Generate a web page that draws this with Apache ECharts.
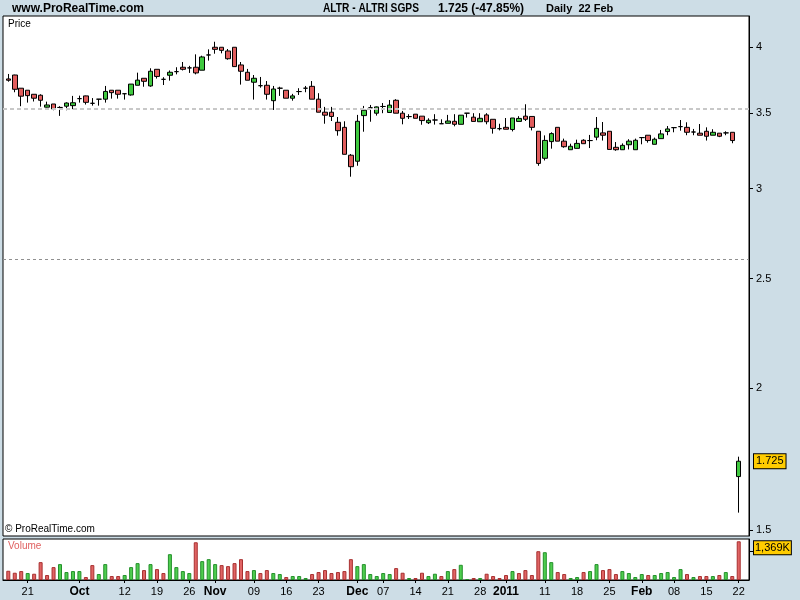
<!DOCTYPE html>
<html><head><meta charset="utf-8">
<script src="https://cdn.jsdelivr.net/npm/echarts@6/dist/echarts.min.js"></script>
<style>html,body{margin:0;padding:0;background:#cddde6}#c{width:800px;height:600px}</style>
</head><body><div id="c"></div><script>
const symbolName = 'ALTR - ALTRI SGPS';
const dates = [
'2010-09-16','2010-09-17','2010-09-20','2010-09-21','2010-09-22','2010-09-23','2010-09-24','2010-09-27','2010-09-28','2010-09-29','2010-09-30',
'2010-10-01','2010-10-04','2010-10-05','2010-10-06','2010-10-07','2010-10-08','2010-10-11','2010-10-12','2010-10-13','2010-10-14','2010-10-15','2010-10-18','2010-10-19','2010-10-20','2010-10-21','2010-10-22','2010-10-25','2010-10-26','2010-10-27','2010-10-28','2010-10-29',
'2010-11-01','2010-11-02','2010-11-03','2010-11-04','2010-11-05','2010-11-08','2010-11-09','2010-11-10','2010-11-11','2010-11-12','2010-11-15','2010-11-16','2010-11-17','2010-11-18','2010-11-19','2010-11-22','2010-11-23','2010-11-24','2010-11-25','2010-11-26','2010-11-29','2010-11-30',
'2010-12-01','2010-12-02','2010-12-03','2010-12-06','2010-12-07','2010-12-08','2010-12-09','2010-12-10','2010-12-13','2010-12-14','2010-12-15','2010-12-16','2010-12-17','2010-12-20','2010-12-21','2010-12-22','2010-12-23','2010-12-24','2010-12-27','2010-12-28','2010-12-29','2010-12-30','2010-12-31',
'2011-01-03','2011-01-04','2011-01-05','2011-01-06','2011-01-07','2011-01-10','2011-01-11','2011-01-12','2011-01-13','2011-01-14','2011-01-17','2011-01-18','2011-01-19','2011-01-20','2011-01-21','2011-01-24','2011-01-25','2011-01-26','2011-01-27','2011-01-28','2011-01-31',
'2011-02-01','2011-02-02','2011-02-03','2011-02-04','2011-02-07','2011-02-08','2011-02-09','2011-02-10','2011-02-11','2011-02-14','2011-02-15','2011-02-16','2011-02-17','2011-02-18','2011-02-21','2011-02-22'];
const openP = [3.749,3.779,3.679,3.664,3.634,3.627,3.540,3.563,3.538,3.547,
 3.551,3.602,3.622,3.568,3.598,3.598,3.664,3.664,3.638,3.629,
 3.701,3.754,3.696,3.823,3.746,3.777,3.805,3.839,3.834,3.839,
 3.816,3.936,3.998,3.998,3.968,3.998,3.857,3.800,3.724,3.698,
 3.701,3.587,3.679,3.664,3.605,3.654,3.679,3.693,3.598,3.504,
 3.504,3.433,3.398,3.211,3.172,3.480,3.536,3.497,3.545,3.502,
 3.590,3.497,3.473,3.490,3.476,3.430,3.449,3.423,3.426,3.440,
 3.419,3.497,3.469,3.437,3.485,3.454,3.389,3.398,3.383,3.439,
 3.476,3.474,3.371,3.191,3.301,3.398,3.304,3.247,3.256,3.310,
 3.308,3.331,3.360,3.371,3.263,3.247,3.280,3.247,3.328,3.344,
 3.283,3.321,3.369,3.396,3.403,3.398,3.366,3.358,3.371,3.344,
 3.358,3.360,3.364,1.672];
const highP = [3.787,3.781,3.679,3.664,3.634,3.634,3.580,3.563,3.547,3.575,
 3.622,3.624,3.624,3.606,3.598,3.696,3.664,3.664,3.638,3.710,
 3.797,3.754,3.831,3.823,3.762,3.814,3.839,3.880,3.850,3.941,
 3.930,3.981,4.043,3.998,3.984,3.998,3.880,3.826,3.779,3.764,
 3.733,3.696,3.690,3.664,3.637,3.679,3.696,3.733,3.642,3.542,
 3.542,3.470,3.440,3.219,3.485,3.549,3.556,3.545,3.570,3.592,
 3.598,3.513,3.490,3.490,3.476,3.461,3.490,3.454,3.485,3.490,
 3.483,3.497,3.497,3.497,3.497,3.454,3.423,3.463,3.463,3.476,
 3.561,3.474,3.371,3.343,3.364,3.398,3.321,3.287,3.314,3.317,
 3.346,3.470,3.435,3.371,3.298,3.289,3.317,3.321,3.328,3.344,
 3.328,3.380,3.407,3.396,3.449,3.433,3.387,3.421,3.398,3.385,
 3.358,3.371,3.364,1.741];
const lowP = [3.728,3.649,3.547,3.573,3.581,3.544,3.538,3.518,3.478,3.518,
 3.526,3.573,3.559,3.551,3.551,3.573,3.602,3.602,3.595,3.624,
 3.701,3.690,3.690,3.752,3.703,3.736,3.784,3.814,3.795,3.784,
 3.816,3.891,3.946,3.949,3.898,3.844,3.706,3.739,3.595,3.683,
 3.595,3.520,3.622,3.605,3.587,3.629,3.649,3.598,3.504,3.423,
 3.442,3.341,3.217,3.074,3.143,3.368,3.437,3.480,3.497,3.502,
 3.497,3.419,3.456,3.461,3.416,3.421,3.417,3.423,3.426,3.405,
 3.419,3.466,3.439,3.437,3.419,3.355,3.377,3.385,3.370,3.439,
 3.442,3.377,3.143,3.177,3.254,3.304,3.260,3.247,3.256,3.287,
 3.258,3.310,3.308,3.249,3.240,3.247,3.249,3.247,3.283,3.294,
 3.283,3.321,3.344,3.364,3.375,3.344,3.344,3.344,3.308,3.344,
 3.331,3.344,3.290,1.554];
const closeP = [3.739,3.671,3.620,3.624,3.605,3.590,3.556,3.527,3.538,3.570,
 3.572,3.602,3.575,3.568,3.598,3.655,3.646,3.634,3.638,3.710,
 3.740,3.731,3.808,3.768,3.746,3.800,3.805,3.823,3.834,3.795,
 3.920,3.936,3.981,3.973,3.906,3.844,3.808,3.739,3.754,3.698,
 3.634,3.673,3.679,3.605,3.622,3.654,3.679,3.598,3.504,3.483,
 3.474,3.375,3.217,3.137,3.440,3.518,3.536,3.542,3.545,3.555,
 3.497,3.461,3.473,3.461,3.445,3.447,3.449,3.423,3.442,3.419,
 3.483,3.497,3.439,3.461,3.437,3.391,3.389,3.385,3.463,3.460,
 3.454,3.398,3.158,3.309,3.355,3.304,3.267,3.270,3.289,3.287,
 3.308,3.391,3.344,3.249,3.247,3.276,3.304,3.310,3.328,3.308,
 3.317,3.353,3.387,3.396,3.403,3.364,3.366,3.344,3.337,3.364,
 3.337,3.360,3.308,1.725];
const volumeK = [327,257,316,246,222,632,176,456,562,281,
 316,316,105,527,211,562,140,140,176,456,
 597,351,562,386,246,913,456,316,246,1334,
 667,737,562,527,491,597,737,316,351,246,
 351,246,211,105,140,140,70,211,281,351,
 246,281,316,737,491,562,211,140,246,211,
 421,257,70,70,257,140,222,140,316,386,
 538,35,70,70,222,140,70,176,316,246,
 351,176,1018,983,632,281,211,70,105,281,
 316,562,351,386,211,316,246,105,211,176,
 176,246,281,105,386,211,105,140,140,140,
 176,281,140,1369];
const tickDates = ['2010-09-21','2010-10-01','2010-10-12','2010-10-19','2010-10-26','2010-11-01','2010-11-09','2010-11-16','2010-11-23','2010-12-01','2010-12-07','2010-12-14','2010-12-21','2010-12-28','2011-01-03','2011-01-11','2011-01-18','2011-01-25','2011-02-01','2011-02-08','2011-02-15','2011-02-22'];
const tickLabels = ['21','Oct','12','19','26','Nov','09','16','23','Dec','07','14','21','28','2011','11','18','25','Feb','08','15','22'];
const boldLabels = ['Oct','Nov','Dec','2011','Feb'];
const priceTicks = [1.5, 2, 2.5, 3, 3.5, 4];
const levelLines = [3.53, 2.6];
const volTicks = [1000];

const N = dates.length, last = N - 1;
const tickIdx = tickDates.map(d => dates.indexOf(d));
const GREEN = '#3fc93f', RED = '#e05c5c';
const candleData = dates.map((d, i) => {
  const v = [i, openP[i], closeP[i], lowP[i], highP[i]];
  if (openP[i] === closeP[i]) {
    return {value: v, itemStyle: {color: '#000', color0: '#000', borderColor: '#000', borderColor0: '#000', borderColorDoji: '#000'}};
  }
  return v;
});
const volData = dates.map((d, i) => {
  const up = i === 0 ? closeP[i] >= openP[i] : closeP[i] >= closeP[i - 1];
  return {value: [i, volumeK[i]], itemStyle: {color: up ? '#4fcd4f' : '#e06464', borderColor: up ? '#23902a' : '#a83030', borderWidth: 1}};
});
const pct = (closeP[last] / closeP[last - 1] - 1) * 100;
const months = ['Jan','Feb','Mar','Apr','May','Jun','Jul','Aug','Sep','Oct','Nov','Dec'];
const lastDate = dates[last].split('-');
const headerRight = closeP[last].toFixed(3) + ' (' + pct.toFixed(2) + '%)';
const headerDate = 'Daily  ' + (+lastDate[2]) + ' ' + months[+lastDate[1] - 1];

const XMIN = -0.82, XMAX = 114.59;
const FONT = '"Liberation Sans", Arial, sans-serif';
const chart = echarts.init(document.getElementById('c'), null, {renderer: 'canvas'});
chart.setOption({
  animation: false,
  backgroundColor: '#cddde6',
  textStyle: {fontFamily: FONT},
  grid: [
    {left: 3, top: 16, width: 746, height: 520, show: true, backgroundColor: '#fff', borderColor: '#000', borderWidth: 1},
    {left: 3, top: 539, width: 746, height: 41, show: true, backgroundColor: '#fff', borderColor: '#000', borderWidth: 1}
  ],
  xAxis: [
    {gridIndex: 0, type: 'value', min: XMIN, max: XMAX, show: false},
    {gridIndex: 1, type: 'value', min: XMIN, max: XMAX,
      axisLine: {show: true, onZero: false, lineStyle: {color: '#000', width: 1}}, splitLine: {show: false},
      axisTick: {show: true, customValues: tickIdx, length: 3, lineStyle: {color: '#000'}},
      axisLabel: {customValues: tickIdx, margin: 6, fontSize: 11, color: '#000',
        formatter: v => { const t = tickLabels[tickIdx.indexOf(Math.round(v))]; return boldLabels.includes(t) ? '{b|' + t + '}' : t; },
        rich: {b: {fontWeight: 'bold', fontSize: 12, color: '#000'}}}}
  ],
  yAxis: [
    {gridIndex: 0, type: 'log', logBase: 10, min: 1.482, max: 4.26, position: 'right',
      axisLine: {show: true, onZero: false, lineStyle: {color: '#000', width: 1}}, splitLine: {show: false}, minorTick: {show: false},
      axisTick: {show: true, inside: false, customValues: priceTicks, length: 4, lineStyle: {color: '#000'}},
      axisLabel: {customValues: priceTicks, margin: 7, fontSize: 11, color: '#000', formatter: v => String(+(+v).toFixed(2))}},
    {gridIndex: 0, type: 'log', logBase: 10, min: 1.482, max: 4.26, position: 'right',
      axisLine: {show: false, onZero: false}, splitLine: {show: false}, axisTick: {show: false},
      axisLabel: {customValues: [closeP[last]], margin: 5, fontSize: 11, color: '#000',
        backgroundColor: '#ffcc00', borderColor: '#000', borderWidth: 1, padding: [2, 2, 1, 2],
        formatter: () => closeP[last].toFixed(3)}},
    {gridIndex: 1, type: 'value', min: 0, max: 1450, position: 'right',
      axisLine: {show: true, onZero: false, lineStyle: {color: '#000', width: 1}}, splitLine: {show: false},
      axisTick: {show: true, inside: false, customValues: volTicks, length: 4, lineStyle: {color: '#000'}},
      axisLabel: {customValues: [volumeK[last]], margin: 5, fontSize: 11, color: '#000', verticalAlign: 'top',
        backgroundColor: '#ffcc00', borderColor: '#000', borderWidth: 1, padding: [1, 1, 1, 1],
        formatter: () => volumeK[last].toLocaleString('en-US') + 'K'}}
  ],
  series: [
    {type: 'candlestick', xAxisIndex: 0, yAxisIndex: 0, data: candleData, barWidth: 5,
      itemStyle: {color: GREEN, color0: RED, borderColor: '#000', borderColor0: '#000', borderColorDoji: '#000', borderWidth: 1},
      markLine: {silent: true, symbol: 'none', label: {show: false},
        data: [
          {yAxis: levelLines[0], lineStyle: {color: '#c8c8c8', type: [4, 3], width: 2}},
          {yAxis: levelLines[1], lineStyle: {color: '#909090', type: [3, 3], width: 1}}
        ]}},
    {type: 'bar', xAxisIndex: 1, yAxisIndex: 2, data: volData, barWidth: 4}
  ],
  graphic: [
    {type: 'text', x: 12, y: 3, z: 100, style: {text: 'www.ProRealTime.com', fill: '#000', font: 'bold 12px ' + FONT}},
    {type: 'text', x: 323, y: 3, scaleX: 0.85, z: 100, style: {text: symbolName, fill: '#000', font: 'bold 12px ' + FONT}},
    {type: 'text', x: 438, y: 3, z: 100, style: {text: headerRight, fill: '#000', font: 'bold 12px ' + FONT}},
    {type: 'text', x: 546, y: 3, z: 100, style: {text: headerDate, fill: '#000', font: 'bold 11px ' + FONT}},
    {type: 'text', x: 8, y: 19, z: 100, style: {text: 'Price', fill: '#000', font: '10px ' + FONT}},
    {type: 'text', x: 5, y: 524, z: 100, style: {text: '\u00a9 ProRealTime.com', fill: '#000', font: '10px ' + FONT}},
    {type: 'text', x: 8, y: 541, z: 100, style: {text: 'Volume', fill: '#e06060', font: '10px ' + FONT}}
  ]
});
</script></body></html>
